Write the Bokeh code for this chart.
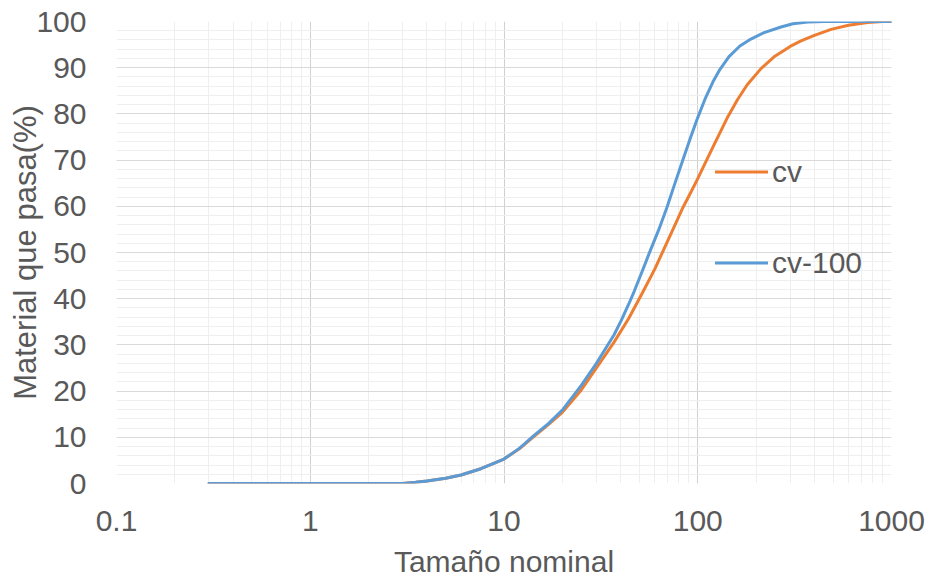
from bokeh.plotting import figure
from bokeh.models import FixedTicker, Legend, LegendItem, CustomJSTickFormatter
from bokeh.embed import file_html
from bokeh.resources import INLINE

# --- data ---
size_cv = [0.3, 1, 2, 3, 3.5, 4, 5, 6, 7.6, 10, 12, 14.3, 17, 20, 25, 30, 37, 44, 52, 60, 66, 75, 84,
           92, 100, 110, 122, 133, 143, 160, 180, 212, 250, 300, 341, 400, 488, 600, 753, 900, 1000]
pass_cv = [0, 0, 0, 0, 0.25, 0.55, 1.15, 1.85, 3.2, 5.3, 7.5, 10.2, 12.8, 15.4, 20.2, 25.0, 30.6, 35.7, 41.4,
           46.4, 50.2, 55.3, 59.8, 63.0, 66.0, 69.6, 73.5, 76.7, 79.4, 83.0, 86.3, 89.8, 92.5, 94.6, 95.8,
           97.0, 98.3, 99.2, 99.8, 100, 100]

size_cv100 = [0.3, 1, 2, 3, 3.5, 4, 5, 6, 7.6, 10, 12, 14.3, 17, 20, 25, 30, 37, 40.3, 44, 47, 52, 56, 63,
              69.4, 76, 83.6, 92, 100, 110, 120, 130, 145, 165, 188, 220, 269, 310, 370, 450, 1000]
pass_cv100 = [0, 0, 0, 0, 0.25, 0.55, 1.15, 1.85, 3.2, 5.3, 7.6, 10.4, 13.0, 15.9, 21.2, 26.0, 32.2, 35.3,
              38.8, 41.6, 46.2, 49.7, 55.0, 59.8, 64.8, 69.9, 75.0, 79.2, 83.6, 87.0, 89.6, 92.4, 94.7, 96.2,
              97.6, 98.8, 99.5, 99.9, 100, 100]

series_names = ["cv", "cv-100"]
x_major_ticks = [0.1, 1, 10, 100, 1000]
x_minor_ticks = [m * d for d in [0.1, 1, 10, 100] for m in range(2, 10)]
y_major_ticks = list(range(0, 101, 10))
y_minor_ticks = list(range(0, 101, 2))

ORANGE = "#ED7D31"
BLUE = "#5B9BD5"
TXT = "#595959"
FONT = "Liberation Sans"

p = figure(width=930, height=581, x_axis_type="log", x_range=(0.1, 1000), y_range=(0, 100),
           output_backend="svg", toolbar_location=None,
           min_border_left=116, min_border_right=39, min_border_top=21, min_border_bottom=98)
p.outline_line_color = None
p.background_fill_color = "white"
p.border_fill_color = "white"

r_cv = p.line(size_cv, pass_cv, line_color=ORANGE, line_width=3, line_cap="round", line_join="round")
r_cv100 = p.line(size_cv100, pass_cv100, line_color=BLUE, line_width=3, line_cap="round", line_join="round")

p.xaxis.ticker = FixedTicker(ticks=x_major_ticks, minor_ticks=x_minor_ticks)
p.yaxis.ticker = FixedTicker(ticks=y_major_ticks, minor_ticks=y_minor_ticks)
p.xaxis.formatter = CustomJSTickFormatter(code="return String(Math.round(tick*10)/10);")

for ax in (p.xaxis, p.yaxis):
    ax.axis_line_color = None
    ax.major_tick_line_color = None
    ax.minor_tick_line_color = None
    ax.major_tick_out = 0
    ax.major_tick_in = 0
    ax.minor_tick_out = 0
    ax.minor_tick_in = 0
    ax.major_label_text_font = FONT
    ax.major_label_text_font_size = "30px"
    ax.major_label_text_color = TXT
    ax.axis_label_text_font = FONT
    ax.axis_label_text_font_style = "normal"
    ax.axis_label_text_color = TXT

p.xaxis.axis_label = "Tamaño nominal"
p.xaxis.axis_label_text_font_size = "30px"
p.xaxis.major_label_standoff = 27
p.xaxis.axis_label_standoff = 11

p.yaxis.axis_label = "Material que pasa(%)"
p.yaxis.axis_label_text_font_size = "31px"
p.yaxis.major_label_standoff = 30
p.yaxis.axis_label_standoff = -10

p.xgrid.grid_line_color = "#D0D0D0"
p.xgrid.grid_line_width = 1
p.xgrid.minor_grid_line_color = "#EFEFEF"
p.xgrid.minor_grid_line_width = 1
p.ygrid.grid_line_color = "#D9D9D9"
p.ygrid.grid_line_width = 1
p.ygrid.minor_grid_line_color = "#EFEFEF"
p.ygrid.minor_grid_line_width = 1

legend = Legend(items=[LegendItem(label=series_names[0], renderers=[r_cv]),
                       LegendItem(label=series_names[1], renderers=[r_cv100])],
                location=(599, 203))
legend.border_line_color = None
legend.background_fill_alpha = 0
legend.padding = 0
legend.margin = 0
legend.glyph_width = 53
legend.glyph_height = 35
legend.label_height = 35
legend.spacing = 56
legend.label_standoff = 4
legend.label_text_font = FONT
legend.label_text_font_size = "30px"
legend.label_text_color = TXT
p.add_layout(legend, "center")

open("out.html", "w").write(file_html(p, INLINE))
